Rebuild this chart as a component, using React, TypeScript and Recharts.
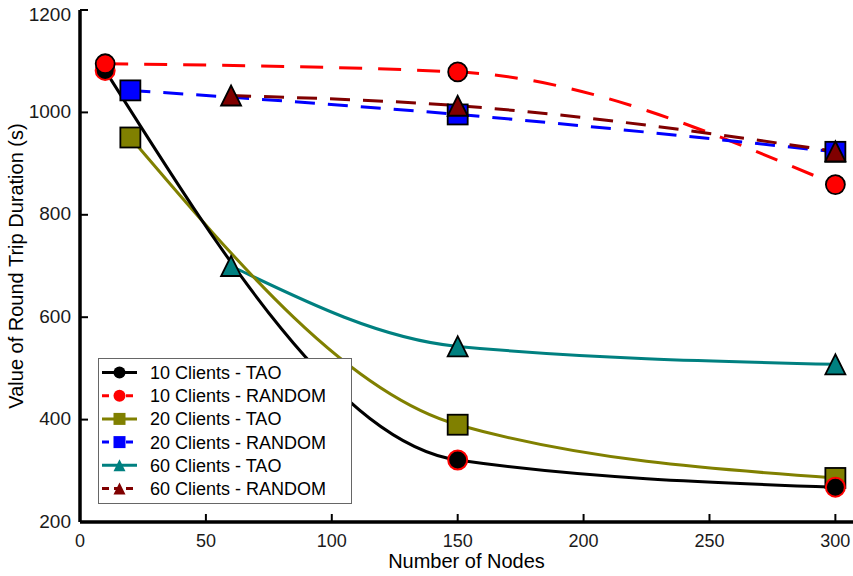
import React from "react";
import { LineChart, Line, XAxis, YAxis, Legend } from "recharts";

const nodes10 = [10, 150, 300];
const nodes20 = [20, 150, 300];
const nodes60 = [60, 150, 300];
const tao10 = [1082, 321, 268];
const random10 = [1095, 1079, 859];
const tao20 = [951, 390, 286];
const random20 = [1043, 996, 923];
const tao60 = [700, 543, 508];
const random60 = [1033, 1013, 924];
const xTicks = [0, 50, 100, 150, 200, 250, 300];
const yTicks = [200, 400, 600, 800, 1000, 1200];

const FONT = "'Liberation Sans', Arial, Helvetica, sans-serif";

const toData = (xs: number[], ys: number[]) => xs.map((x, i) => ({ x, y: ys[i] }));

type Marker = "circle" | "square" | "triangle";

const drawMarker = (kind: Marker, cx: number, cy: number, size: number, fill: string, stroke: string, sw: number, key?: any) => {
  const h = size / 2;
  if (kind === "circle") return <circle key={key} cx={cx} cy={cy} r={h} fill={fill} stroke={stroke} strokeWidth={sw} />;
  if (kind === "square") return <rect key={key} x={cx - h} y={cy - h} width={size} height={size} fill={fill} stroke={stroke} strokeWidth={sw} />;
  return <polygon key={key} points={`${cx},${cy - h} ${cx - h},${cy + h} ${cx + h},${cy + h}`} fill={fill} stroke={stroke} strokeWidth={sw} strokeLinejoin="miter" />;
};

const series = [
  { name: "60 Clients - TAO", xs: nodes60, ys: tao60, color: "#008080", dash: undefined, marker: "triangle" as Marker, edge: "#000" },
  { name: "20 Clients - TAO", xs: nodes20, ys: tao20, color: "#808000", dash: undefined, marker: "square" as Marker, edge: "#000" },
  { name: "10 Clients - TAO", xs: nodes10, ys: tao10, color: "#000000", dash: undefined, marker: "circle" as Marker, edge: "#ff0000" },
  { name: "10 Clients - RANDOM", xs: nodes10, ys: random10, color: "#ff0000", dash: "23 16", marker: "circle" as Marker, edge: "#000" },
  { name: "20 Clients - RANDOM", xs: nodes20, ys: random20, color: "#0000ff", dash: "20 13", marker: "square" as Marker, edge: "#000" },
  { name: "60 Clients - RANDOM", xs: nodes60, ys: random60, color: "#800000", dash: "20 13", marker: "triangle" as Marker, edge: "#000" },
];

const legendOrder = [
  "10 Clients - TAO",
  "10 Clients - RANDOM",
  "20 Clients - TAO",
  "20 Clients - RANDOM",
  "60 Clients - TAO",
  "60 Clients - RANDOM",
];

const XTick = (props: any) => {
  const { x, y, payload } = props;
  return (
    <g>
      <line x1={x} x2={x} y1={y} y2={y - 8} stroke="#000" strokeWidth={2} />
      <text x={x} y={y + 24.5} textAnchor="middle" fontSize={18} fontFamily={FONT} fill="#1a1a1a">
        {payload.value}
      </text>
    </g>
  );
};

const YTick = (props: any) => {
  const { x, y, payload } = props;
  const base = Math.max(y + 5.5, 21);
  return (
    <g>
      <line x1={x} x2={x + 8} y1={y} y2={y} stroke="#000" strokeWidth={2} />
      <text x={x - 9} y={base} textAnchor="end" fontSize={19} fontFamily={FONT} fill="#1a1a1a">
        {payload.value}
      </text>
    </g>
  );
};

const LegendBox = () => {
  const rowH = 23.2;
  return (
    <div style={{ width: 254, height: 146, boxSizing: "border-box", border: "1.5px solid #666", background: "#fff" }}>
      <svg width={251} height={143} style={{ display: "block" }}>
        {legendOrder.map((name, i) => {
          const s = series.find((d) => d.name === name)!;
          const cy = 13.5 + i * rowH;
          return (
            <g key={name}>
              <line x1={3} x2={38} y1={cy} y2={cy} stroke={s.color} strokeWidth={3} strokeDasharray={s.dash ? "7 5" : undefined} />
              {drawMarker(s.marker, 20.5, cy, 12, s.color, s.color, 0)}
              <text x={51} y={cy + 6.5} fontSize={18} fontFamily={FONT} fill="#000">
                {name}
              </text>
            </g>
          );
        })}
      </svg>
    </div>
  );
};

export default function App() {
  return (
    <div style={{ position: "absolute", left: 0, top: 0, width: 853, height: 576, background: "#fff" }}>
      <LineChart width={853} height={576} margin={{ top: 10, right: 0, bottom: 0, left: 0 }}>
        <XAxis
          type="number"
          dataKey="x"
          domain={[0, 307]}
          ticks={xTicks}
          interval={0}
          allowDuplicatedCategory={false}
          height={54}
          tickSize={0}
          tickMargin={0}
          tickLine={false}
          tick={<XTick />}
          axisLine={{ stroke: "#000", strokeWidth: 3.5 }}
          label={(p: any) => {
            const vb = p.viewBox;
            return (
              <text x={vb.x + vb.width / 2} y={vb.y + 46} textAnchor="middle" fontSize={20} fontFamily={FONT} fill="#000">
                Number of Nodes
              </text>
            );
          }}
        />
        <YAxis
          type="number"
          dataKey="y"
          domain={[200, 1200]}
          ticks={yTicks}
          interval={0}
          width={80}
          tickSize={0}
          tickMargin={0}
          tickLine={false}
          tick={<YTick />}
          axisLine={{ stroke: "#000", strokeWidth: 3.5 }}
          label={(p: any) => {
            const vb = p.viewBox;
            const cx = 23;
            const cy = vb.y + vb.height / 2;
            return (
              <text x={cx} y={cy} transform={`rotate(-90 ${cx} ${cy})`} textAnchor="middle" fontSize={20} fontFamily={FONT} fill="#000">
                Value of Round Trip Duration (s)
              </text>
            );
          }}
        />
        <Legend
          layout="vertical"
          verticalAlign="middle"
          align="center"
          content={<LegendBox />}
          wrapperStyle={{ left: 98, top: 358, width: 254, height: 146 }}
        />
        {series.map((s) => (
          <Line
            key={s.name}
            name={s.name}
            data={toData(s.xs, s.ys)}
            dataKey="y"
            type="monotoneX"
            stroke={s.color}
            strokeWidth={3}
            strokeDasharray={s.dash}
            isAnimationActive={false}
            dot={(p: any) => drawMarker(s.marker, p.cx, p.cy, s.marker === "circle" ? 19 : 20, s.color, s.edge, s.edge === "#ff0000" ? 2 : 1.8, p.key ?? `${s.name}-${p.index}`)}
            activeDot={false}
          />
        ))}
      </LineChart>
    </div>
  );
}
